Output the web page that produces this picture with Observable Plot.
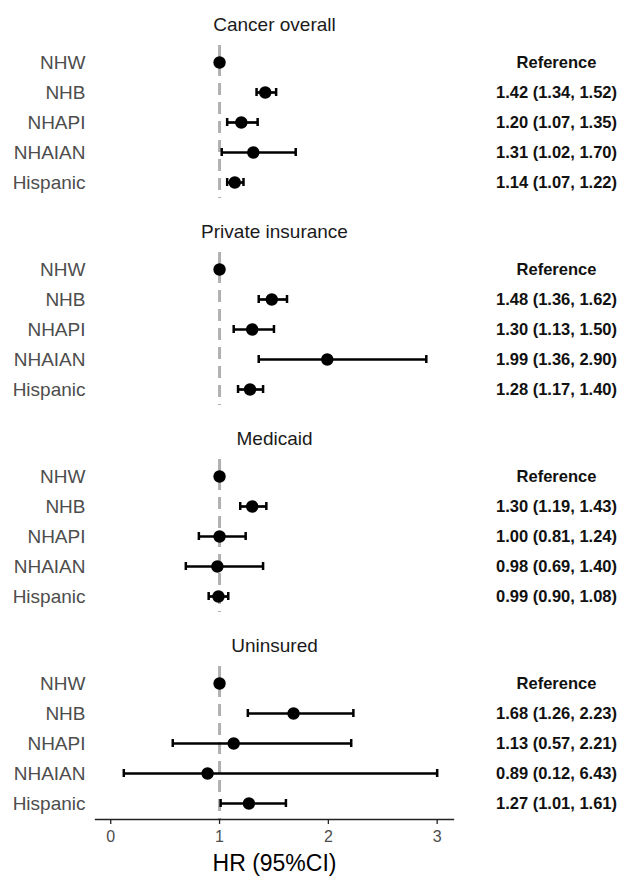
<!DOCTYPE html>
<html>
<head>
<meta charset="utf-8">
<script src="https://cdn.jsdelivr.net/npm/d3@7"></script>
<script src="https://cdn.jsdelivr.net/npm/@observablehq/plot@0.6"></script>
<style>
  body { margin: 0; background: #fff; }
  svg { font-family: "Liberation Sans", Arial, Helvetica, sans-serif; }
</style>
</head>
<body>
<div id="chart"></div>
<script>
const panels = ["Cancer overall", "Private insurance", "Medicaid", "Uninsured"];
const groups = ["NHW", "NHB", "NHAPI", "NHAIAN", "Hispanic"];
// per panel: hazard ratios, lower and upper CI (NHW is the reference = 1)
const hrCancer = [1, 1.42, 1.20, 1.31, 1.14];
const loCancer = [null, 1.34, 1.07, 1.02, 1.07];
const hiCancer = [null, 1.52, 1.35, 1.70, 1.22];
const hrPrivate = [1, 1.48, 1.30, 1.99, 1.28];
const loPrivate = [null, 1.36, 1.13, 1.36, 1.17];
const hiPrivate = [null, 1.62, 1.50, 2.90, 1.40];
const hrMedicaid = [1, 1.30, 1.00, 0.98, 0.99];
const loMedicaid = [null, 1.19, 0.81, 0.69, 0.90];
const hiMedicaid = [null, 1.43, 1.24, 1.40, 1.08];
const hrUninsured = [1, 1.68, 1.13, 0.89, 1.27];
const loUninsured = [null, 1.26, 0.57, 0.12, 1.01];
const hiUninsured = [null, 2.23, 2.21, 6.43, 1.61];
const xTicks = [0, 1, 2, 3];
const xMax = 3;

const series = [
  [hrCancer, loCancer, hiCancer],
  [hrPrivate, loPrivate, hiPrivate],
  [hrMedicaid, loMedicaid, hiMedicaid],
  [hrUninsured, loUninsured, hiUninsured]
];
const fmt = d3.format(".2f");
const data = [];
panels.forEach((p, pi) => {
  const [hr, lo, hi] = series[pi];
  groups.forEach((g, gi) => {
    data.push({
      panel: p, group: g, hr: hr[gi], lo: lo[gi], hi: hi[gi],
      hiShown: hi[gi] == null ? null : Math.min(hi[gi], xMax),
      label: lo[gi] == null ? "Reference" : `${fmt(hr[gi])} (${fmt(lo[gi])}, ${fmt(hi[gi])})`
    });
  });
});
const ci = data.filter(d => d.lo != null);

const chart = Plot.plot({
  width: 623,
  height: 876,
  marginLeft: 95,
  marginRight: 170,
  marginTop: 44,
  marginBottom: 57,
  style: { fontFamily: '"Liberation Sans", Arial, Helvetica, sans-serif', background: "#fff" },
  x: { domain: [-0.14, 3.15] },
  y: { domain: groups, padding: 0 },
  fy: { domain: panels, paddingInner: 0.261, paddingOuter: 0, axis: null },
  marks: [
    Plot.ruleX([1], { stroke: "#b0b0b0", strokeWidth: 3, strokeDasharray: "12,7" }),
    Plot.ruleY(ci, { x1: "lo", x2: "hiShown", y: "group", fy: "panel", stroke: "#000", strokeWidth: 2.7 }),
    Plot.tickX(ci, { x: "lo", y: "group", fy: "panel", stroke: "#000", strokeWidth: 2.5, insetTop: 11, insetBottom: 11 }),
    Plot.tickX(ci, { x: "hiShown", y: "group", fy: "panel", stroke: "#000", strokeWidth: 2.5, insetTop: 11, insetBottom: 11 }),
    Plot.dot(data, { x: "hr", y: "group", fy: "panel", r: 6.2, fill: "#000" }),
    Plot.text(data, { y: "group", fy: "panel", text: "label", frameAnchor: "right", dx: 103, textAnchor: "middle", fontWeight: "bold", fontSize: 16.5, fill: "#111" }),
    Plot.text(panels, { fy: d => d, text: d => d, frameAnchor: "top", lineAnchor: "middle", dy: -21, fontSize: 19, fill: "#1a1a1a" }),
    Plot.axisY({ tickSize: 0, tickPadding: 10, fontSize: 19, color: "#4d4d4d", label: null }),
    Plot.frame({ anchor: "bottom", facetAnchor: "bottom", stroke: "#222", strokeWidth: 1.3 }),
    Plot.axisX({ ticks: xTicks, tickFormat: d => String(d), tickSize: 5, tickPadding: 6, fontSize: 16, color: "#4d4d4d", stroke: "#222", strokeWidth: 1.3, label: null }),
    Plot.text(["HR (95%CI)"], { frameAnchor: "bottom", facetAnchor: "bottom", lineAnchor: "middle", dy: 44, fontSize: 23, fill: "#000" })
  ]
});
document.getElementById("chart").appendChild(chart);
</script>
</body>
</html>
